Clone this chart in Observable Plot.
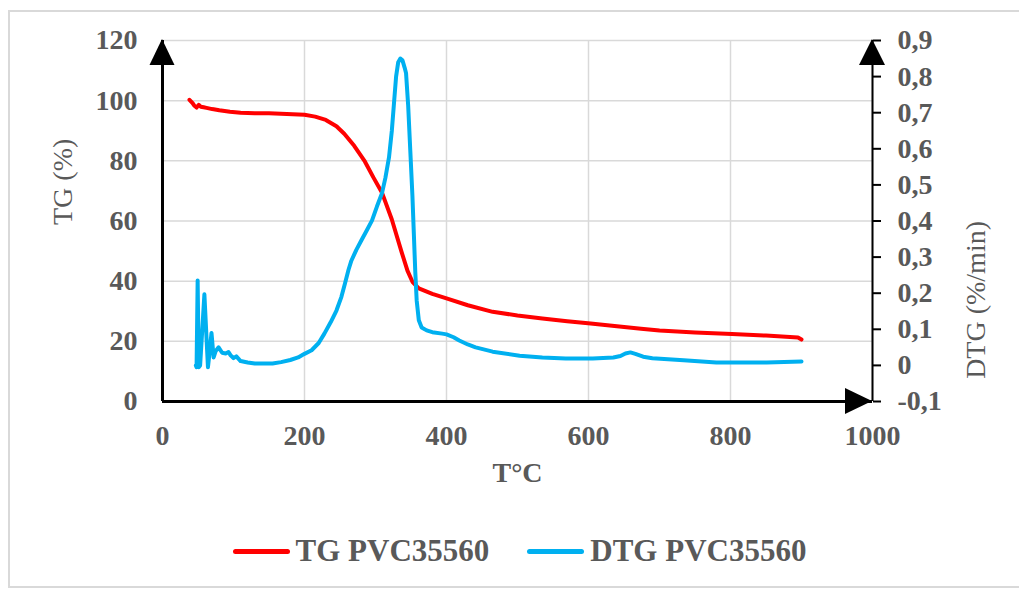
<!DOCTYPE html>
<html>
<head>
<meta charset="utf-8">
<script src="https://cdn.jsdelivr.net/npm/d3@7"></script>
<script src="https://cdn.jsdelivr.net/npm/@observablehq/plot@0.6"></script>
<style>
  html, body { margin: 0; padding: 0; background: #fff; }
  #wrap { position: relative; width: 1019px; height: 590px; overflow: hidden; font-family: 'Liberation Serif', 'Times New Roman', serif; }
  #frame { position: absolute; left: 8px; top: 10px; width: 1100px; height: 574px; border: 2px solid #d9d9d9; border-right: none; }
  #chart { position: absolute; left: 0; top: 0; }
  #legend { position: absolute; left: 0; top: 533px; width: 1019px; display: flex; justify-content: center; align-items: center; color: #595959; font-weight: bold; font-size: 31px; padding-left: 20px; box-sizing: border-box; }
  .sw { display: inline-block; width: 57px; height: 5px; border-radius: 3px; margin-right: 6px; }
  .item { display: flex; align-items: center; margin: 0 19px; }
</style>
</head>
<body>
<div id="wrap">
  <div id="frame"></div>
  <div id="chart"></div>
  <div id="legend"></div>
</div>
<script>
// ---- data ----
const seriesNames = ["TG PVC35560", "DTG PVC35560"];
const seriesColors = ["#ff0000", "#00b0f0"];

const tgT = [38, 42, 45, 48, 51, 54, 58, 62, 70, 80, 95, 110, 130, 150, 175, 200, 215, 230, 245, 256, 270, 285, 297, 309, 323, 337, 345, 352, 361, 380, 400, 430, 465, 500, 535, 570, 603, 640, 674, 700, 750, 802, 850, 895, 900];
const tgV = [100.3, 99.3, 98.3, 97.7, 98.6, 98.0, 97.8, 97.6, 97.2, 96.8, 96.3, 96.0, 95.8, 95.8, 95.6, 95.3, 94.7, 93.6, 91.5, 89.0, 85.0, 79.8, 74.5, 69.5, 60.5, 49.5, 43.5, 39.8, 37.6, 35.8, 34.3, 32.0, 29.8, 28.6, 27.6, 26.7, 25.9, 25.0, 24.2, 23.6, 22.9, 22.4, 21.9, 21.3, 20.6];

const dtgT = [47, 48, 49.5, 51, 53, 59, 64, 66, 69, 72, 75, 79, 84, 89, 93, 96, 100, 104, 110, 120, 130, 143, 155, 167, 180, 191, 200, 210, 220, 228, 237, 245, 252, 257, 262, 266, 273, 280, 288, 295, 302, 309, 314, 319, 323, 326, 329, 332, 335, 338, 341, 343, 346, 349, 352, 354, 356, 358, 361, 365, 372, 380, 394, 400, 410, 418, 430, 441, 465, 503, 535, 568, 606, 635, 645, 652, 659, 666, 677, 690, 734, 780, 851, 900];
const dtgV = [0.0, -0.005, 0.235, -0.005, 0.0, 0.197, -0.005, 0.03, 0.09, 0.022, 0.04, 0.05, 0.035, 0.033, 0.037, 0.028, 0.02, 0.025, 0.012, 0.008, 0.005, 0.005, 0.005, 0.009, 0.015, 0.022, 0.032, 0.042, 0.062, 0.088, 0.12, 0.152, 0.19, 0.227, 0.265, 0.29, 0.32, 0.346, 0.375, 0.401, 0.44, 0.476, 0.52, 0.576, 0.65, 0.725, 0.80, 0.84, 0.85, 0.845, 0.825, 0.81, 0.72, 0.595, 0.47, 0.365, 0.26, 0.18, 0.125, 0.105, 0.097, 0.092, 0.088, 0.086, 0.078, 0.069, 0.058, 0.05, 0.038, 0.027, 0.022, 0.019, 0.019, 0.022, 0.026, 0.033, 0.036, 0.032, 0.024, 0.02, 0.014, 0.008, 0.008, 0.011];

const xTicks = [0, 200, 400, 600, 800, 1000];
const yTicks = [0, 20, 40, 60, 80, 100, 120];
const dtgTicks = [-0.1, 0, 0.1, 0.2, 0.3, 0.4, 0.5, 0.6, 0.7, 0.8, 0.9];

const xLabel = "T°C";
const yLabel = "TG (%)";
const y2Label = "DTG (%/min)";

// DTG axis [-0.1, 0.9] shares the TG frame [0, 120]
const toTG = d => (d + 0.1) * 120;
const fromTG = v => Math.round((v / 120 - 0.1) * 10) / 10;

const tg = tgT.map((t, i) => ({t, v: tgV[i]}));
const dtg = dtgT.map((t, i) => ({t, v: dtgV[i]}));

function arrowHeads(index, scales) {
  const g = d3.create("svg:g").attr("fill", "black");
  const x0 = scales.x(0), x1 = scales.x(1000), yT = scales.y(120), yB = scales.y(0);
  g.append("path").attr("d", `M${x0},${yT - 1}L${x0 - 12.5},${yT + 25}L${x0 + 12.5},${yT + 25}Z`);
  g.append("path").attr("d", `M${x1},${yT - 1}L${x1 - 13},${yT + 25}L${x1 + 13},${yT + 25}Z`);
  g.append("path").attr("d", `M${x1},${yB}L${x1 - 27},${yB - 13}L${x1 - 27},${yB + 13}Z`);
  return g.node();
}

const serif = "'Liberation Serif', 'Times New Roman', serif";

const chart = Plot.plot({
  width: 1019,
  height: 500,
  marginLeft: 162,
  marginRight: 147,
  marginTop: 40,
  marginBottom: 99,
  x: {domain: [0, 1000]},
  y: {domain: [0, 120]},
  style: {fontFamily: serif, fontSize: "28px", color: "#595959", background: "transparent", overflow: "visible"},
  marks: [
    Plot.gridX(xTicks, {stroke: "#d9d9d9", strokeOpacity: 1, strokeWidth: 1.5}),
    Plot.gridY(yTicks, {stroke: "#d9d9d9", strokeOpacity: 1, strokeWidth: 1.5}),
    Plot.line(tg, {x: "t", y: "v", stroke: seriesColors[0], strokeWidth: 4, strokeLinejoin: "round", strokeLinecap: "round"}),
    Plot.line(dtg, {x: "t", y: d => toTG(d.v), stroke: seriesColors[1], strokeWidth: 4, strokeLinejoin: "round", strokeLinecap: "round"}),
    Plot.axisY(yTicks, {anchor: "left", tickSize: 0, tickPadding: 25, fontWeight: "bold", fontSize: 28, fill: "#595959", label: null}),
    Plot.axisX(xTicks, {anchor: "bottom", tickSize: 0, tickPadding: 24, fontWeight: "bold", fontSize: 28, fill: "#595959", tickFormat: d => String(d), label: null}),
    Plot.axisY(dtgTicks.map(toTG), {anchor: "right", tickSize: 8, tickPadding: 17, stroke: "black", strokeWidth: 2, strokeOpacity: 1, fill: "#595959", fontWeight: "bold", fontSize: 28, tickFormat: v => String(fromTG(v)).replace(".", ","), label: null}),
    Plot.ruleX([0], {stroke: "black", strokeWidth: 3}),
    Plot.ruleY([0], {stroke: "black", strokeWidth: 3}),
    Plot.ruleX([1000], {stroke: "black", strokeWidth: 2}),
    arrowHeads,
    Plot.text([yLabel], {frameAnchor: "left", dx: -99, dy: 4, rotate: -90, fill: "#595959", fontSize: 28}),
    Plot.text([y2Label], {frameAnchor: "right", dx: 104, rotate: -90, fill: "#595959", fontSize: 28}),
    Plot.text([xLabel], {frameAnchor: "bottom", dy: 80, fill: "#595959", fontWeight: "bold", fontSize: 28})
  ]
});
document.getElementById("chart").appendChild(chart);

const legend = document.getElementById("legend");
seriesNames.forEach((name, i) => {
  const item = document.createElement("div");
  item.className = "item";
  const sw = document.createElement("span");
  sw.className = "sw";
  sw.style.background = seriesColors[i];
  const tx = document.createElement("span");
  tx.textContent = name;
  item.appendChild(sw);
  item.appendChild(tx);
  legend.appendChild(item);
});
</script>
</body>
</html>
